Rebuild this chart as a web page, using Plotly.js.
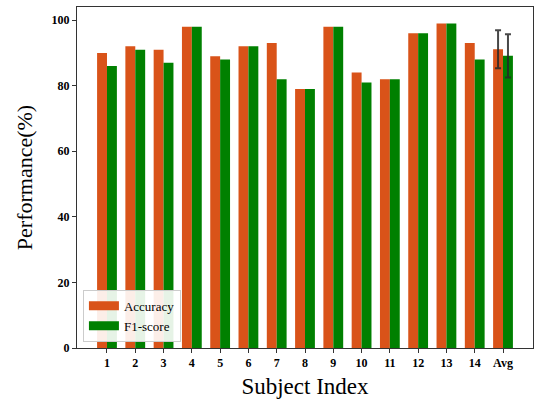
<!DOCTYPE html>
<html><head><meta charset="utf-8">
<script src="https://cdn.plot.ly/plotly-3.0.1.min.js"></script>
<style>body{margin:0;padding:0;background:#fff}#c{width:534px;height:403px}</style>
</head><body><div id="c"></div>
<script>
const categories = ['1','2','3','4','5','6','7','8','9','10','11','12','13','14','Avg'];
const accuracy = [90,92,91,98,89,92,93,79,98,84,82,96,99,93,91.1];
const f1score = [86,91,87,98,88,92,82,79,98,81,82,96,99,88,89.1];
const avgAccuracyStd = 5.8;
const avgF1Std = 6.6;
const accColor = '#D95319';
const f1Color = '#008000';

const barW = 0.35;
const pos = categories.map((c,i)=>i);
const avgIdx = categories.indexOf('Avg');
const serif = 'Liberation Serif, Times New Roman, serif';
const errStyle = (v)=>({type:'data', array:[v], visible:true, color:'rgba(40,40,40,0.85)', thickness:2, width:3});

const traces = [
  {type:'bar', name:'Accuracy', x:pos, y:accuracy, width:barW, offset:-barW, showlegend:false,
   marker:{color:accColor}},
  {type:'bar', name:'F1-score', x:pos, y:f1score, width:barW, offset:0, showlegend:false,
   marker:{color:f1Color}},
  {type:'scatter', mode:'markers', x:[pos[avgIdx]-barW/2], y:[accuracy[avgIdx]], showlegend:false,
   marker:{size:1, opacity:0}, error_y:errStyle(avgAccuracyStd)},
  {type:'scatter', mode:'markers', x:[pos[avgIdx]+barW/2], y:[f1score[avgIdx]], showlegend:false,
   marker:{size:1, opacity:0}, error_y:errStyle(avgF1Std)},
  {type:'scatter', mode:'lines', name:'Accuracy', x:[null], y:[null], line:{color:accColor, width:9}},
  {type:'scatter', mode:'lines', name:'F1-score', x:[null], y:[null], line:{color:f1Color, width:9}}
];
const tickFont = {family:serif, size:12, color:'#000', weight:'bold'};
const layout = {
  width:534, height:403,
  margin:{l:77, r:1, t:7, b:55},
  paper_bgcolor:'#fff', plot_bgcolor:'#fff',
  barmode:'overlay',
  showlegend:true,
  legend:{x:0.013, y:0.018, xanchor:'left', yanchor:'bottom',
    bgcolor:'rgba(255,255,255,0.9)', bordercolor:'#cccccc', borderwidth:1,
    tracegroupgap:0, itemwidth:30,
    font:{family:serif, size:13, color:'#000'}},
  xaxis:{range:[-1.06,15.06], tickmode:'array', tickvals:pos, ticktext:categories,
    showgrid:false, zeroline:false, showline:true, linecolor:'#333', linewidth:1, mirror:true,
    ticks:'outside', ticklen:4, tickcolor:'#333', tickfont:tickFont,
    title:{text:'Subject Index', font:{family:serif, size:23, color:'#000'}, standoff:8}},
  yaxis:{range:[0,104], tickvals:[0,20,40,60,80,100],
    showgrid:false, zeroline:false, showline:true, linecolor:'#333', linewidth:1, mirror:true,
    ticks:'outside', ticklen:4, tickcolor:'#333', tickfont:tickFont,
    title:{text:'Performance(%)', font:{family:serif, size:22, color:'#000'}, standoff:12}}
};
Plotly.newPlot('c', traces, layout, {displayModeBar:false, staticPlot:true});
</script></body></html>
